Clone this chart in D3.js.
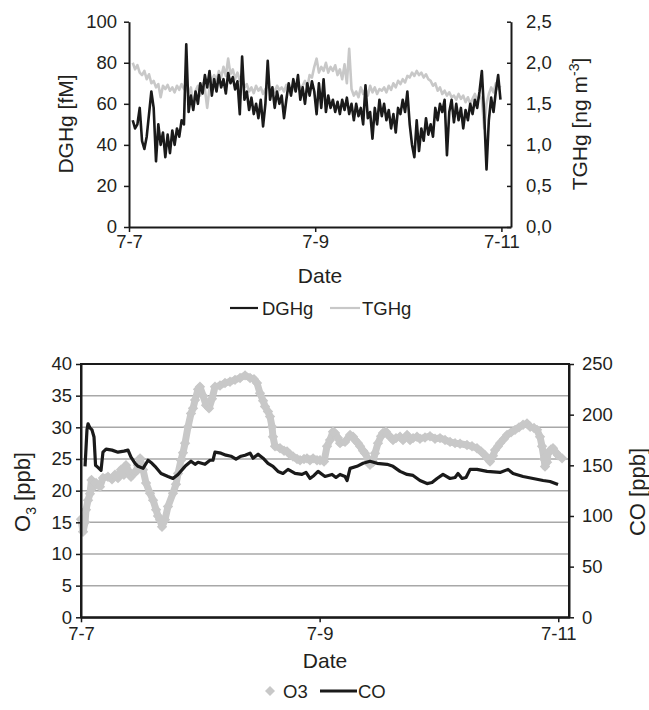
<!DOCTYPE html>
<html><head><meta charset="utf-8">
<script src="https://cdn.jsdelivr.net/npm/d3@7/dist/d3.min.js"></script>
<style>
body{margin:0;background:#fff}
text{font-family:"Liberation Sans",Arial,sans-serif;fill:#231f20}
</style>
</head><body>
<svg id="chart" width="649" height="710"></svg>
<script>
// ---------- DATA ----------
const xTickDays = [0, 2, 4];
const xTickLabels = ["7-7", "7-9", "7-11"];
const dghgTicks = [0, 20, 40, 60, 80, 100];
const tghgTicks = [0, 0.5, 1.0, 1.5, 2.0, 2.5];
const o3Ticks = [0, 5, 10, 15, 20, 25, 30, 35, 40];
const coTicks = [0, 50, 100, 150, 200, 250];

// Hg series: regular sampling (days since 7-7 00:00)
const hgStartDay = 0.04, hgStepDay = 0.025;
const dghg = [
 52,48,50,58,42,38,44,55,66,58,
 32,50,40,46,34,45,36,47,40,48,
 44,52,50,89,56,64,57,66,60,70,
 65,74,68,76,64,72,66,74,68,72,
 65,75,70,73,67,71,55,83,62,66,
 57,63,55,60,53,62,49,60,81,62,
 68,58,66,60,64,53,62,70,64,72,
 66,74,62,68,60,70,64,71,66,55,
 70,58,72,56,64,58,62,56,61,55,
 62,57,63,55,60,52,60,54,58,50,
 69,53,56,43,58,50,62,54,60,52,
 57,48,55,46,58,55,62,56,66,50,
 40,34,52,37,48,42,53,45,50,44,
 58,52,60,56,62,35,56,62,51,60,
 52,58,48,57,52,60,55,62,58,66,
 76,55,28,52,63,56,66,74,62
];
const tghg = [
 2.0,1.92,1.97,1.88,
 1.85,1.9,1.8,1.86,1.75,
 1.78,1.7,1.74,1.58,1.72,
 1.68,1.73,1.66,1.7,1.64,1.72,1.67,1.74,1.68,
 1.72,1.62,1.7,1.45,1.66,1.72,1.6,1.75,1.68,1.45,1.7,1.8,
 1.85,1.78,1.9,1.82,1.95,1.84,2.05,1.86,1.92,1.8,1.88,1.78,
 1.82,1.7,1.74,1.65,1.7,1.63,1.72,1.66,1.7,1.62,1.68,1.72,
 1.66,1.7,1.64,1.72,1.67,1.7,1.65,1.73,1.68,1.62,1.7,1.66,1.74,1.68,1.72,1.78,1.7,1.85,1.82,1.95,
 2.05,1.88,1.95,1.9,2.0,1.88,1.95,1.9,1.97,1.85,1.92,1.8,1.98,1.75,2.17,
 1.68,1.6,1.65,1.58,1.7,1.62,1.68,1.6,1.72,1.64,1.7,1.62,1.68,
 1.66,1.7,1.64,1.72,1.67,1.75,1.7,1.78,1.74,1.8,1.76,1.84,
 1.82,1.88,1.84,1.9,1.85,1.88,1.82,1.86,1.8,1.78,
 1.72,1.75,1.66,1.7,1.62,1.66,1.6,1.64,1.58,
 1.6,1.55,1.62,1.56,1.6,1.52,1.58,1.5,1.56,1.62,1.54,1.6,
 1.55,1.2,1.5,1.62,1.7,1.64,1.75,1.68,1.72
];

// O3 (ppb) – days since 7-7
const o3Days = [0,0.017,0.034,0.042,0.059,0.075,0.088,0.101,0.126,0.159,0.184,0.226,0.260,0.285,0.310,0.335,0.360,0.377,0.402,0.419,0.444,0.461,0.478,0.495,0.520,0.545,0.578,0.604,0.629,0.645,0.662,0.679,0.704,0.729,0.771,0.796,0.813,0.838,0.855,0.872,0.897,0.922,0.939,0.956,0.981,0.997,1.023,1.048,1.073,1.098,1.123,1.165,1.207,1.249,1.291,1.333,1.375,1.417,1.450,1.475,1.500,1.526,1.542,1.567,1.584,1.601,1.609,1.626,1.668,1.702,1.727,1.752,1.777,1.811,1.836,1.869,1.894,1.919,1.945,1.978,2.003,2.037,2.062,2.087,2.112,2.129,2.154,2.171,2.213,2.255,2.280,2.297,2.322,2.339,2.364,2.380,2.406,2.422,2.448,2.464,2.489,2.515,2.531,2.556,2.573,2.598,2.615,2.640,2.674,2.699,2.733,2.758,2.783,2.816,2.841,2.883,2.925,2.967,3.009,3.051,3.093,3.135,3.177,3.235,3.277,3.319,3.353,3.386,3.411,3.428,3.453,3.470,3.495,3.512,3.546,3.571,3.604,3.638,3.671,3.705,3.738,3.764,3.797,3.822,3.847,3.864,3.881,3.889,3.906,3.914,3.939,3.956,3.981,3.998,4.032];
const o3Values = [15.5,13.5,15,17,18.5,19.5,21.7,20.5,21.2,20.6,22,22.2,21.8,22.5,22,23.3,22.5,24,23,22.2,22.8,23,24,25.1,23.3,21.2,19.6,18.5,17,16,15.4,14.3,15.4,17.5,19.6,21,22.7,24.8,26,27.5,30.1,32.2,33,34.3,36,36.4,35,33.5,33,34.5,36.4,36.6,37,37.2,37.5,37.8,38.2,37.8,37.6,37,35.4,34.2,33.3,32.5,31.7,30.1,28.5,27,26.7,26.3,26.2,25.7,25.4,25,24.8,25,25.1,24.8,25.1,24.8,24.8,24.6,27,28,29.3,29.1,28.3,27.5,27.7,28.8,28.5,28,27.5,27,26.3,25.9,25,24.1,24.5,25.9,27.5,28.6,29.1,29.3,28.8,28.4,28,28.3,28.5,28,28.8,28,28.3,28.5,28.2,28.4,28.6,28.2,28.3,28,27.7,27.5,27.4,27.2,27,26.7,26.2,25.6,25,24.6,25.5,26.4,27,27.5,28.2,28.8,29.2,29.6,30,30.4,30.6,30.1,29.9,29.6,28.5,27,25,23.8,24.5,25.9,26.5,26.7,26,25.6,25.1];

// CO (ppb) – days since 7-7
const coDays = [0.034,0.050,0.059,0.075,0.092,0.109,0.122,0.142,0.168,0.184,0.210,0.260,0.310,0.360,0.394,0.419,0.453,0.478,0.520,0.562,0.595,0.620,0.671,0.729,0.771,0.813,0.872,0.922,0.956,0.981,1.039,1.081,1.106,1.123,1.173,1.215,1.257,1.299,1.341,1.375,1.417,1.442,1.484,1.526,1.567,1.609,1.651,1.693,1.735,1.794,1.852,1.886,1.919,1.953,1.987,2.045,2.104,2.137,2.171,2.213,2.230,2.255,2.313,2.364,2.422,2.481,2.565,2.615,2.674,2.733,2.783,2.841,2.900,2.942,2.984,3.034,3.093,3.135,3.160,3.194,3.227,3.261,3.319,3.403,3.512,3.579,3.621,3.705,3.789,3.873,3.931,3.998];
const coValues = [149,185,191,187,185,178,150,148,145,163,166,165,163,164,165,158,152,149,147,155,152,149,142,139,137,141,149,154,151,153,151,155,155,163,162,160,159,156,159,160,162,157,161,157,152,149,144,142,146,142,141,143,137,140,144,139,141,138,141,139,135,147,149,152,154,152,151,149,144,141,140,135,132,133,137,141,137,138,142,137,138,146,146,144,143,146,142,139,137,135,134,131];

// ---------- DRAW ----------
const svg = d3.select("#chart");
const FS = 18.5;      // tick labels & legend
const FT = 21;        // axis titles
const BLACK = "#1a1a1a", GRAY = "#c8c8c8", GRID = "#a8a8a8";

function styleAxis(g, w) {
  g.selectAll(".domain").attr("stroke", BLACK).attr("stroke-width", w);
  g.selectAll(".tick line").attr("stroke", BLACK).attr("stroke-width", 1.5);
  g.selectAll(".tick text").attr("font-size", FS).attr("fill", "#231f20")
    .style("font-family", '"Liberation Sans",Arial,sans-serif');
}

// ===== Top chart =====
const x1 = d3.scaleLinear().domain([0, 4.103]).range([129, 511]);
const yL1 = d3.scaleLinear().domain([0, 100]).range([227, 21.7]);
const yR1 = d3.scaleLinear().domain([0, 2.5]).range([227, 21.7]);
const hgDay = i => hgStartDay + i * hgStepDay;

const lineD = d3.line().x((d, i) => x1(hgDay(i))).y(d => yL1(d));
const lineT = d3.line().x((d, i) => x1(hgDay(i))).y(d => yR1(d));

svg.append("path").datum(tghg).attr("d", lineT).attr("fill", "none")
  .attr("stroke", GRAY).attr("stroke-width", 2.6).attr("stroke-linejoin", "round");
svg.append("path").datum(dghg).attr("d", lineD).attr("fill", "none")
  .attr("stroke", BLACK).attr("stroke-width", 2.6).attr("stroke-linejoin", "round");

const gL1 = svg.append("g").attr("transform", "translate(129,0)")
  .call(d3.axisLeft(yL1).tickValues(dghgTicks).tickSize(5).tickSizeOuter(0).tickPadding(7));
styleAxis(gL1, 2);
const gR1 = svg.append("g").attr("transform", "translate(511,0)")
  .call(d3.axisRight(yR1).tickValues(tghgTicks).tickSize(-4).tickSizeOuter(0).tickPadding(15)
    .tickFormat(d => d3.format(".1f")(d).replace(".", ",")));
styleAxis(gR1, 2);
const gB1 = svg.append("g").attr("transform", "translate(0,227)")
  .call(d3.axisBottom(x1).tickValues(xTickDays).tickSize(5).tickSizeOuter(0).tickPadding(3)
    .tickFormat((d, i) => xTickLabels[i]));
styleAxis(gB1, 2);

svg.append("text").attr("x", 320).attr("y", 283).attr("text-anchor", "middle")
  .attr("font-size", FT).text("Date");
svg.append("text").attr("transform", "translate(73,124) rotate(-90)").attr("text-anchor", "middle")
  .attr("font-size", FT).text("DGHg [fM]");
const tT = svg.append("text").attr("transform", "translate(587,124) rotate(-90)")
  .attr("text-anchor", "middle").attr("font-size", FT);
tT.append("tspan").text("TGHg [ng m");
tT.append("tspan").attr("dy", -8).attr("font-size", 14).text("-3");
tT.append("tspan").attr("dy", 8).text("]");

// legend top
svg.append("line").attr("x1", 230).attr("x2", 258).attr("y1", 308).attr("y2", 308)
  .attr("stroke", BLACK).attr("stroke-width", 2.2);
svg.append("text").attr("x", 262).attr("y", 315).attr("font-size", FS).text("DGHg");
svg.append("line").attr("x1", 330).attr("x2", 360).attr("y1", 308).attr("y2", 308)
  .attr("stroke", GRAY).attr("stroke-width", 2.2);
svg.append("text").attr("x", 362).attr("y", 315).attr("font-size", FS).text("TGHg");

// ===== Bottom chart =====
const x2 = d3.scaleLinear().domain([0, 4.09]).range([81, 569]);
const yL2 = d3.scaleLinear().domain([0, 40]).range([617.3, 364]);
const yR2 = d3.scaleLinear().domain([0, 250]).range([617.3, 364]);

svg.append("g").selectAll("line").data(o3Ticks.filter(v => v > 0 && v < 40)).join("line")
  .attr("x1", x2(0)).attr("x2", x2(4.09)).attr("y1", d => yL2(d)).attr("y2", d => yL2(d))
  .attr("stroke", GRID).attr("stroke-width", 1.5);

const o3 = o3Days.map((d, i) => [d, o3Values[i]]);
svg.append("path").datum(o3).attr("fill", "none").attr("stroke", GRAY).attr("stroke-width", 7)
  .attr("stroke-linejoin", "round")
  .attr("d", d3.line().x(d => x2(d[0])).y(d => yL2(d[1])));
const diamond = r => `M0,${-r}L${r},0L0,${r}L${-r},0Z`;
svg.append("g").selectAll("path").data(o3).join("path")
  .attr("transform", d => `translate(${x2(d[0])},${yL2(d[1])})`)
  .attr("d", diamond(5.2)).attr("fill", GRAY);

const co = coDays.map((d, i) => [d, coValues[i]]);
svg.append("path").datum(co).attr("fill", "none").attr("stroke", BLACK).attr("stroke-width", 3.2)
  .attr("stroke-linejoin", "round")
  .attr("d", d3.line().x(d => x2(d[0])).y(d => yR2(d[1])));

// frame
svg.append("rect").attr("x", 81).attr("y", 364).attr("width", 488).attr("height", 253.3)
  .attr("fill", "none").attr("stroke", BLACK).attr("stroke-width", 2);

const gL2 = svg.append("g").attr("transform", "translate(81,0)")
  .call(d3.axisLeft(yL2).tickValues(o3Ticks).tickSize(5).tickSizeOuter(0).tickPadding(4));
styleAxis(gL2, 2);
const gR2 = svg.append("g").attr("transform", "translate(569,0)")
  .call(d3.axisRight(yR2).tickValues(coTicks).tickSize(5).tickSizeOuter(0).tickPadding(8));
styleAxis(gR2, 2);
const gB2 = svg.append("g").attr("transform", "translate(0,617.3)")
  .call(d3.axisBottom(x2).tickValues(xTickDays).tickSize(5).tickSizeOuter(0).tickPadding(5)
    .tickFormat((d, i) => xTickLabels[i]));
styleAxis(gB2, 2);

svg.append("text").attr("x", 325).attr("y", 668).attr("text-anchor", "middle")
  .attr("font-size", FT).text("Date");
const oT = svg.append("text").attr("transform", "translate(30,492) rotate(-90)")
  .attr("text-anchor", "middle").attr("font-size", 22);
oT.append("tspan").text("O");
oT.append("tspan").attr("dy", 6).attr("font-size", 14).text("3");
oT.append("tspan").attr("dy", -6).text(" [ppb]");
svg.append("text").attr("transform", "translate(645,492) rotate(-90)").attr("text-anchor", "middle")
  .attr("font-size", 22).text("CO [ppb]");

// legend bottom
svg.append("path").attr("transform", "translate(270,691)").attr("d", diamond(5)).attr("fill", GRAY);
svg.append("text").attr("x", 283).attr("y", 698).attr("font-size", FS).text("O3");
svg.append("line").attr("x1", 320).attr("x2", 357).attr("y1", 691).attr("y2", 691)
  .attr("stroke", BLACK).attr("stroke-width", 3.2);
svg.append("text").attr("x", 358).attr("y", 698).attr("font-size", FS).text("CO");
</script>
</body></html>
